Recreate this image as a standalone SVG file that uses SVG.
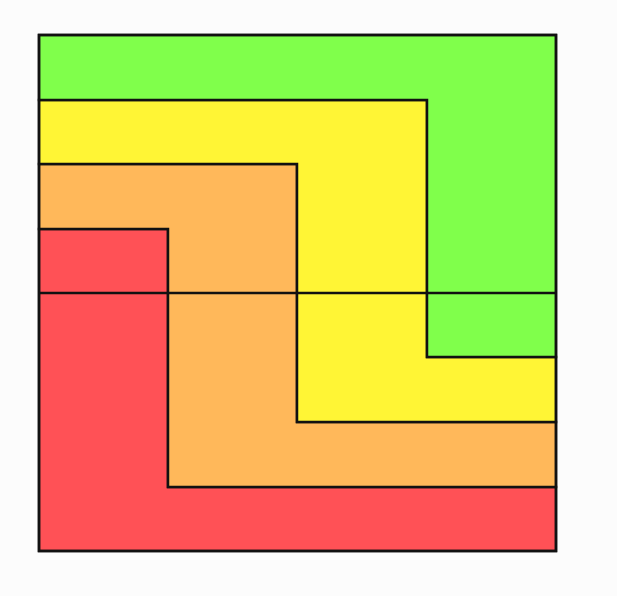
<svg xmlns="http://www.w3.org/2000/svg" width="617" height="596" viewBox="0 0 617 596">
<style>
.s{stroke:#111;stroke-width:2.5;stroke-linejoin:miter}
</style>
<rect width="617" height="596" fill="#fcfcfc"/>
<g id="red"><path class="s" fill="#ff5156" d="M39 229H168V487H556V551H39Z"/></g>
<g id="orange"><path class="s" fill="#ffb85a" d="M39 164H297V422H556V487H168V229H39Z"/></g>
<g id="yellow"><path class="s" fill="#fff535" d="M39 100H427V357H556V422H297V164H39Z"/></g>
<g id="green"><path class="s" fill="#80ff4b" d="M39 35H556V357H427V100H39Z"/></g>
<g id="connectors">
<line class="s" x1="39" y1="293" x2="556" y2="293"/>
<rect class="s" fill="none" x="39" y="35" width="517" height="516"/>
</g>
</svg>
